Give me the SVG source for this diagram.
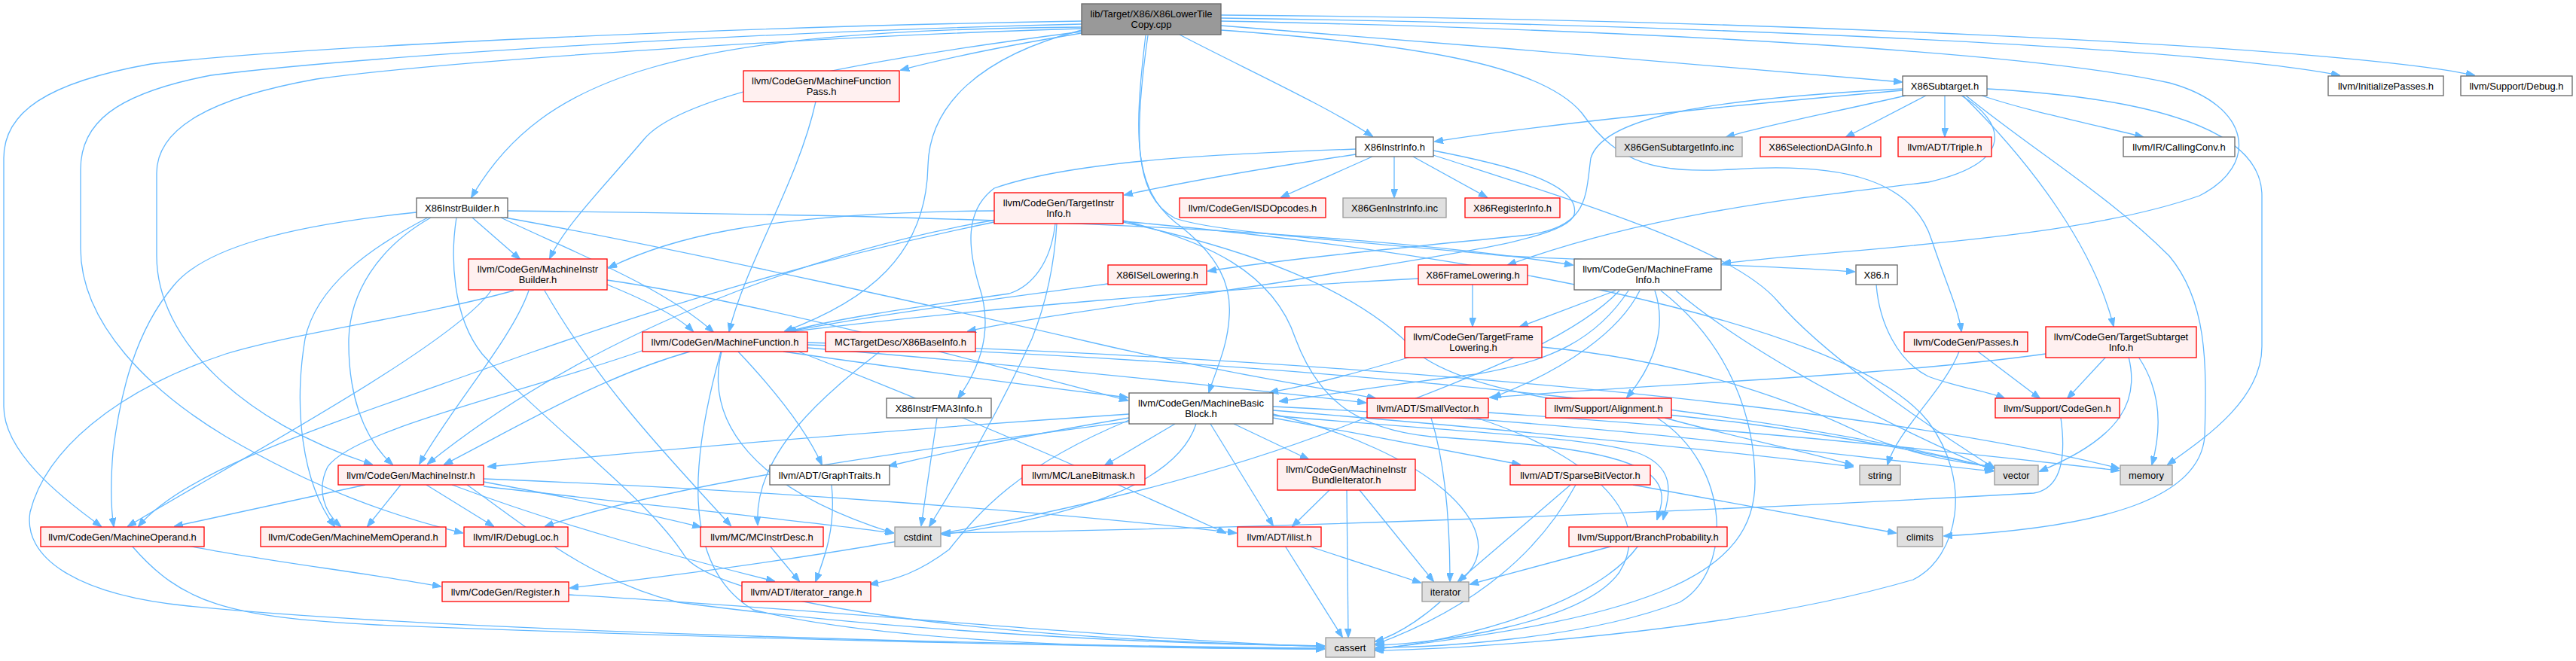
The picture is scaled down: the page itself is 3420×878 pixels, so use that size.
<svg xmlns="http://www.w3.org/2000/svg" width="3420" height="878" viewBox="0 0 3420 878">
<style>
text{font-family:"Liberation Sans",Arial,Helvetica,sans-serif;font-size:13px;fill:#000;text-anchor:middle}
rect{stroke-width:1.3}
.root rect{fill:#999999;stroke:#666666}
.w rect{fill:#FFFFFF;stroke:#666666}
.r rect{fill:#FFF0F0;stroke:#FF0000}
.g rect{fill:#E0E0E0;stroke:#999999}
#edges path{fill:none;stroke:#63B8FF;stroke-width:1.3;marker-end:url(#a)}
</style>
<defs>
<marker id="a" markerWidth="12" markerHeight="9" refX="11" refY="4.5" orient="auto" markerUnits="userSpaceOnUse"><path d="M0,0 L12,4.5 L0,9 z" fill="#63B8FF" stroke="#63B8FF" stroke-width="1"/></marker>
</defs>
<rect width="3420" height="878" fill="#FFFFFF"/>
<g id="edges">
<path d="M1436,36 C900,40 720,100 626,262"/>
<path d="M1436,44 C1340,60 1260,76 1196,93"/>
<path d="M1436,40 C1300,75 1234,140 1232,220 C1230,340 1150,400 1042,440"/>
<path d="M1436,42 C1100,85 900,130 855,185 C800,250 750,300 730,343"/>
<path d="M1436,28 C1000,35 420,60 200,85 C60,110 5,150 5,210 L5,540 C5,600 80,660 134,699"/>
<path d="M1436,32 C1000,42 480,75 280,100 C150,125 107,165 107,225 L107,330 C107,430 200,520 300,580 C420,650 520,685 614,708"/>
<path d="M1436,38 C1100,48 600,80 420,105 C280,130 208,170 208,230 L208,340 C208,450 320,560 494,617"/>
<path d="M1566,46 C1650,90 1760,140 1822,181"/>
<path d="M1621,34 C1900,55 2300,90 2525,109"/>
<path d="M1621,24 C2200,32 2900,60 3106,100"/>
<path d="M1621,20 C2300,25 3100,60 3285,100"/>
<path d="M1521,47 C1505,180 1505,250 1560,295 C1620,340 1635,380 1632,420 C1630,460 1615,490 1605,521"/>
<path d="M1524,47 C1505,180 1505,260 1560,290 C1620,310 1800,320 2000,340 C2200,350 2350,352 2462,361"/>
<path d="M1621,28 C2200,40 2700,70 2880,110 C2990,140 3000,220 2920,260 C2750,320 2450,330 2287,350"/>
<path d="M1621,40 C1900,60 2050,90 2100,150 C2150,220 2200,230 2300,225 C2450,215 2540,240 2565,320 C2585,380 2600,410 2604,440"/>
<path d="M553,282 C380,300 270,330 230,380 C180,440 160,520 150,600 C146,650 148,680 151,699"/>
<path d="M606,289 C598,340 600,420 640,470 C720,560 860,660 910,740 C960,800 1300,850 1758,858"/>
<path d="M568,289 C490,330 420,380 405,450 C390,540 400,640 444,699"/>
<path d="M572,289 C500,330 465,390 463,450 C462,520 480,580 521,617"/>
<path d="M627,289 L690,344"/>
<path d="M674,280 C1000,284 1700,290 2088,352"/>
<path d="M670,289 C900,330 1300,420 1450,455 C1600,490 1750,515 1826,529"/>
<path d="M665,289 C750,330 880,380 947,441"/>
<path d="M1083,135 C1060,240 990,350 968,440"/>
<path d="M2526,120 C2300,140 2050,165 1905,188"/>
<path d="M2530,127 C2430,150 2350,165 2292,182"/>
<path d="M2557,127 L2451,182"/>
<path d="M2582,127 L2582,181"/>
<path d="M2631,127 C2700,150 2780,165 2845,182"/>
<path d="M2604,127 C2660,160 2680,215 2560,242 C2400,262 2200,280 2002,352"/>
<path d="M2526,118 C2300,130 2130,150 2112,210 C2105,260 2110,300 2030,312 C1850,330 1700,345 1604,360"/>
<path d="M2606,127 C2700,220 2780,330 2806,433"/>
<path d="M2610,127 C2700,200 2800,260 2880,340 C2930,400 2930,480 2927,580 C2920,660 2800,700 2581,712"/>
<path d="M2638,118 C2850,130 3003,170 3003,260 L3003,460 C3003,530 2930,580 2878,617"/>
<path d="M1800,205 C1700,220 1580,240 1493,259"/>
<path d="M1822,208 L1701,262"/>
<path d="M1851,208 L1851,262"/>
<path d="M1876,208 L1974,262"/>
<path d="M1903,200 C1980,215 2100,240 2090,285 C2080,320 1900,340 1700,375 C1500,405 1350,425 1285,440"/>
<path d="M1800,198 C1600,205 1420,215 1320,250 C1280,280 1285,330 1300,380 C1320,440 1300,490 1272,529"/>
<path d="M1903,206 C2100,270 2300,330 2360,400 C2420,470 2550,560 2648,622"/>
<path d="M1320,280 C1000,282 880,320 808,356"/>
<path d="M1401,297 C1395,350 1370,380 1340,390 C1200,410 1100,425 1045,441"/>
<path d="M1322,292 C1100,330 800,430 568,616"/>
<path d="M1320,295 C1100,340 900,400 700,470 C450,560 250,620 184,699"/>
<path d="M1403,297 C1400,350 1390,400 1370,450 C1320,560 1270,640 1234,699"/>
<path d="M1491,293 C1600,320 1690,360 1720,450 C1750,530 1800,570 1900,580 C2050,590 2150,600 2190,630 C2215,650 2205,675 2200,690"/>
<path d="M1491,295 C1650,330 1800,380 1883,470 C1950,520 2100,540 2300,560 C2450,580 2580,605 2646,622"/>
<path d="M1491,294 C1900,330 2450,420 2560,560 C2620,640 2600,740 2540,770 C2300,840 1950,862 1826,864"/>
<path d="M2145,386 L2018,434"/>
<path d="M2162,386 C2120,450 2060,480 1960,497 C1850,510 1760,525 1699,533"/>
<path d="M2177,386 C2150,440 2080,490 1982,528"/>
<path d="M2150,386 C2080,460 1900,520 1800,560 C1500,680 1100,740 757,781"/>
<path d="M2197,386 C2212,430 2200,480 2160,528"/>
<path d="M2225,386 C2300,450 2450,540 2646,625"/>
<path d="M2205,386 C2300,460 2330,560 2330,640 C2330,760 2200,820 1827,862"/>
<path d="M1955,378 L1955,433"/>
<path d="M1883,370 C1600,385 1300,410 1046,441"/>
<path d="M1471,377 C1300,400 1150,420 1044,441"/>
<path d="M2491,378 C2495,430 2520,480 2560,500 C2600,515 2640,520 2661,529"/>
<path d="M1873,474 C1820,490 1750,510 1686,521"/>
<path d="M2047,461 C2250,480 2400,540 2480,580 C2560,610 2610,615 2646,620"/>
<path d="M2626,467 L2708,529"/>
<path d="M2601,467 C2580,520 2520,570 2506,617"/>
<path d="M2796,474 L2745,529"/>
<path d="M2826,474 C2840,530 2820,580 2708,626"/>
<path d="M2839,474 C2870,520 2870,570 2857,617"/>
<path d="M2716,470 C2500,500 2200,510 1978,528"/>
<path d="M916,467 C800,500 700,560 590,617"/>
<path d="M855,465 C700,520 470,570 435,620 C420,650 430,680 452,699"/>
<path d="M980,467 C1030,520 1070,570 1091,617"/>
<path d="M1040,467 C1200,490 1350,510 1497,528"/>
<path d="M958,467 C935,560 1000,650 1186,708"/>
<path d="M957,467 C920,600 900,750 1000,810 C1200,860 1600,862 1758,862"/>
<path d="M1060,467 C1300,560 1500,650 1627,708"/>
<path d="M1072,462 C1300,480 1600,510 1813,535"/>
<path d="M1072,455 C1600,470 2400,520 2813,622"/>
<path d="M1072,458 C1600,475 2300,530 2646,622"/>
<path d="M1168,467 C1100,520 1000,600 1006,697"/>
<path d="M1244,555 L1223,698"/>
<path d="M1499,550 C1200,570 900,595 648,620"/>
<path d="M1499,555 C1380,575 1280,595 1180,619"/>
<path d="M1560,563 L1467,618"/>
<path d="M1638,563 L1737,610"/>
<path d="M1607,563 L1690,698"/>
<path d="M1690,555 C1800,575 1900,595 2018,617"/>
<path d="M1499,560 C1200,600 900,640 724,699"/>
<path d="M1499,558 C1350,620 1300,680 1260,730 C1220,760 1190,770 1155,776"/>
<path d="M1588,563 C1560,650 1400,690 1251,710"/>
<path d="M1690,550 C1900,600 2000,700 1950,760 C1900,820 1850,845 1826,852"/>
<path d="M1690,545 C2000,570 2300,600 2460,620"/>
<path d="M1690,540 C2100,560 2400,600 2646,626"/>
<path d="M1690,552 C1950,575 2100,580 2170,600 C2230,620 2215,660 2208,690"/>
<path d="M1900,555 C1920,620 1925,700 1925,772"/>
<path d="M1960,555 C2100,600 2200,680 2150,760 C2100,830 1900,855 1827,857"/>
<path d="M1976,548 C2300,570 2600,600 2813,625"/>
<path d="M2200,555 C2300,620 2300,760 2230,800 C2100,850 1900,860 1827,860"/>
<path d="M2210,555 C2300,580 2400,600 2460,618"/>
<path d="M485,644 L232,699"/>
<path d="M532,644 L488,699"/>
<path d="M566,644 L655,699"/>
<path d="M642,640 C750,660 850,680 930,700"/>
<path d="M642,646 C850,670 1050,690 1186,708"/>
<path d="M642,636 C1000,650 1400,680 1641,708"/>
<path d="M600,644 C750,700 900,740 1028,772"/>
<path d="M620,644 C700,700 780,770 900,800 C1200,840 1550,856 1758,858"/>
<path d="M702,386 C680,450 600,540 557,616"/>
<path d="M652,386 C600,460 300,620 170,699"/>
<path d="M806,378 C860,400 900,420 920,440"/>
<path d="M806,372 C1000,400 1300,480 1497,532"/>
<path d="M723,386 C800,520 900,620 970,698"/>
<path d="M682,386 C560,420 400,440 300,470 C150,520 60,600 40,680 C30,740 100,790 250,805 C600,840 1400,858 1758,861"/>
<path d="M250,725 C350,745 480,760 585,779"/>
<path d="M175,725 C240,800 300,820 500,830 C1000,850 1500,860 1758,862"/>
<path d="M755,790 C1100,810 1500,850 1758,859"/>
<path d="M1104,644 C1110,700 1095,740 1083,772"/>
<path d="M1022,725 L1061,772"/>
<path d="M1765,651 L1716,699"/>
<path d="M1805,651 L1903,772"/>
<path d="M1788,651 L1790,846"/>
<path d="M1736,725 L1886,774"/>
<path d="M1706,725 L1782,846"/>
<path d="M2085,644 L1936,772"/>
<path d="M2092,644 C2040,740 1950,810 1826,856"/>
<path d="M2168,644 L2517,708"/>
<path d="M2142,725 L1952,776"/>
<path d="M2175,725 C2120,800 1950,850 1826,862"/>
<path d="M2736,555 C2745,620 2730,650 2700,655 C2400,672 1800,700 1251,708"/>
</g>
<g id="n_root" class="root"><rect x="1436" y="5" width="185" height="41"/><text x="1528.5" y="22.5">lib/Target/X86/X86LowerTile</text><text x="1528.5" y="37">Copy.cpp</text></g>
<g id="n_x86instrbuilder" class="w"><rect x="553" y="263" width="121" height="26"/><text x="613.5" y="280.5">X86InstrBuilder.h</text></g>
<g id="n_mfp" class="r"><rect x="987" y="94" width="207" height="41"/><text x="1090.5" y="111.5">llvm/CodeGen/MachineFunction</text><text x="1090.5" y="126">Pass.h</text></g>
<g id="n_x86subtarget" class="w"><rect x="2526" y="101" width="112" height="26"/><text x="2582" y="118.5">X86Subtarget.h</text></g>
<g id="n_initpasses" class="w"><rect x="3091" y="101" width="153" height="26"/><text x="3167.5" y="118.5">llvm/InitializePasses.h</text></g>
<g id="n_debug" class="w"><rect x="3267" y="101" width="148" height="26"/><text x="3341" y="118.5">llvm/Support/Debug.h</text></g>
<g id="n_x86instrinfo" class="w"><rect x="1800" y="182" width="103" height="26"/><text x="1851.5" y="199.5">X86InstrInfo.h</text></g>
<g id="n_gensubtarget" class="g"><rect x="2145" y="182" width="168" height="26"/><text x="2229" y="199.5">X86GenSubtargetInfo.inc</text></g>
<g id="n_seldag" class="r"><rect x="2337" y="182" width="160" height="26"/><text x="2417" y="199.5">X86SelectionDAGInfo.h</text></g>
<g id="n_triple" class="r"><rect x="2520" y="182" width="124" height="26"/><text x="2582" y="199.5">llvm/ADT/Triple.h</text></g>
<g id="n_callingconv" class="w"><rect x="2819" y="182" width="148" height="26"/><text x="2893" y="199.5">llvm/IR/CallingConv.h</text></g>
<g id="n_tii" class="r"><rect x="1320" y="256" width="171" height="41"/><text x="1405.5" y="273.5">llvm/CodeGen/TargetInstr</text><text x="1405.5" y="288">Info.h</text></g>
<g id="n_isdopcodes" class="r"><rect x="1566" y="263" width="194" height="26"/><text x="1663" y="280.5">llvm/CodeGen/ISDOpcodes.h</text></g>
<g id="n_geninstrinfo" class="g"><rect x="1783" y="263" width="137" height="26"/><text x="1851.5" y="280.5">X86GenInstrInfo.inc</text></g>
<g id="n_x86reginfo" class="r"><rect x="1945" y="263" width="126" height="26"/><text x="2008" y="280.5">X86RegisterInfo.h</text></g>
<g id="n_mib" class="r"><rect x="622" y="344" width="184" height="41"/><text x="714" y="361.5">llvm/CodeGen/MachineInstr</text><text x="714" y="376">Builder.h</text></g>
<g id="n_isellowering" class="r"><rect x="1471" y="352" width="131" height="26"/><text x="1536.5" y="369.5">X86ISelLowering.h</text></g>
<g id="n_framelowering" class="r"><rect x="1883" y="352" width="145" height="26"/><text x="1955.5" y="369.5">X86FrameLowering.h</text></g>
<g id="n_mfi" class="w"><rect x="2090" y="344" width="195" height="41"/><text x="2187.5" y="361.5">llvm/CodeGen/MachineFrame</text><text x="2187.5" y="376">Info.h</text></g>
<g id="n_x86h" class="w"><rect x="2464" y="352" width="55" height="26"/><text x="2491.5" y="369.5">X86.h</text></g>
<g id="n_tfl" class="r"><rect x="1865" y="434" width="182" height="41"/><text x="1956" y="451.5">llvm/CodeGen/TargetFrame</text><text x="1956" y="466">Lowering.h</text></g>
<g id="n_passes" class="r"><rect x="2528" y="441" width="164" height="26"/><text x="2610" y="458.5">llvm/CodeGen/Passes.h</text></g>
<g id="n_tsi" class="r"><rect x="2716" y="434" width="200" height="41"/><text x="2816" y="451.5">llvm/CodeGen/TargetSubtarget</text><text x="2816" y="466">Info.h</text></g>
<g id="n_mf" class="r"><rect x="853" y="441" width="219" height="26"/><text x="962.5" y="458.5">llvm/CodeGen/MachineFunction.h</text></g>
<g id="n_baseinfo" class="r"><rect x="1096" y="441" width="199" height="26"/><text x="1195.5" y="458.5">MCTargetDesc/X86BaseInfo.h</text></g>
<g id="n_fma3" class="w"><rect x="1177" y="529" width="139" height="26"/><text x="1246.5" y="546.5">X86InstrFMA3Info.h</text></g>
<g id="n_mbb" class="w"><rect x="1499" y="522" width="191" height="41"/><text x="1594.5" y="539.5">llvm/CodeGen/MachineBasic</text><text x="1594.5" y="554">Block.h</text></g>
<g id="n_smallvector" class="r"><rect x="1815" y="529" width="161" height="26"/><text x="1895.5" y="546.5">llvm/ADT/SmallVector.h</text></g>
<g id="n_alignment" class="r"><rect x="2052" y="529" width="167" height="26"/><text x="2135.5" y="546.5">llvm/Support/Alignment.h</text></g>
<g id="n_codegen" class="r"><rect x="2649" y="529" width="165" height="26"/><text x="2731.5" y="546.5">llvm/Support/CodeGen.h</text></g>
<g id="n_mi" class="r"><rect x="449" y="618" width="193" height="26"/><text x="545.5" y="635.5">llvm/CodeGen/MachineInstr.h</text></g>
<g id="n_graphtraits" class="w"><rect x="1022" y="618" width="159" height="26"/><text x="1101.5" y="635.5">llvm/ADT/GraphTraits.h</text></g>
<g id="n_lanebitmask" class="r"><rect x="1357" y="618" width="163" height="26"/><text x="1438.5" y="635.5">llvm/MC/LaneBitmask.h</text></g>
<g id="n_mibi" class="r"><rect x="1696" y="610" width="183" height="41"/><text x="1787.5" y="627.5">llvm/CodeGen/MachineInstr</text><text x="1787.5" y="642">BundleIterator.h</text></g>
<g id="n_sparsebv" class="r"><rect x="2005" y="618" width="186" height="26"/><text x="2098" y="635.5">llvm/ADT/SparseBitVector.h</text></g>
<g id="n_string" class="g"><rect x="2469" y="618" width="54" height="26"/><text x="2496" y="635.5">string</text></g>
<g id="n_vector" class="g"><rect x="2648" y="618" width="58" height="26"/><text x="2677" y="635.5">vector</text></g>
<g id="n_memory" class="g"><rect x="2815" y="618" width="69" height="26"/><text x="2849.5" y="635.5">memory</text></g>
<g id="n_mo" class="r"><rect x="54" y="700" width="217" height="26"/><text x="162.5" y="717.5">llvm/CodeGen/MachineOperand.h</text></g>
<g id="n_mmo" class="r"><rect x="346" y="700" width="246" height="26"/><text x="469" y="717.5">llvm/CodeGen/MachineMemOperand.h</text></g>
<g id="n_debugloc" class="r"><rect x="616" y="700" width="138" height="26"/><text x="685" y="717.5">llvm/IR/DebugLoc.h</text></g>
<g id="n_mcinstrdesc" class="r"><rect x="930" y="700" width="163" height="26"/><text x="1011.5" y="717.5">llvm/MC/MCInstrDesc.h</text></g>
<g id="n_cstdint" class="g"><rect x="1188" y="700" width="61" height="26"/><text x="1218.5" y="717.5">cstdint</text></g>
<g id="n_ilist" class="r"><rect x="1643" y="700" width="111" height="26"/><text x="1698.5" y="717.5">llvm/ADT/ilist.h</text></g>
<g id="n_branchprob" class="r"><rect x="2083" y="700" width="210" height="26"/><text x="2188" y="717.5">llvm/Support/BranchProbability.h</text></g>
<g id="n_climits" class="g"><rect x="2519" y="700" width="60" height="26"/><text x="2549" y="717.5">climits</text></g>
<g id="n_register" class="r"><rect x="587" y="773" width="168" height="26"/><text x="671" y="790.5">llvm/CodeGen/Register.h</text></g>
<g id="n_iterrange" class="r"><rect x="985" y="773" width="171" height="26"/><text x="1070.5" y="790.5">llvm/ADT/iterator_range.h</text></g>
<g id="n_iterator" class="g"><rect x="1888" y="773" width="62" height="26"/><text x="1919" y="790.5">iterator</text></g>
<g id="n_cassert" class="g"><rect x="1760" y="847" width="65" height="26"/><text x="1792.5" y="864.5">cassert</text></g>
</svg>
